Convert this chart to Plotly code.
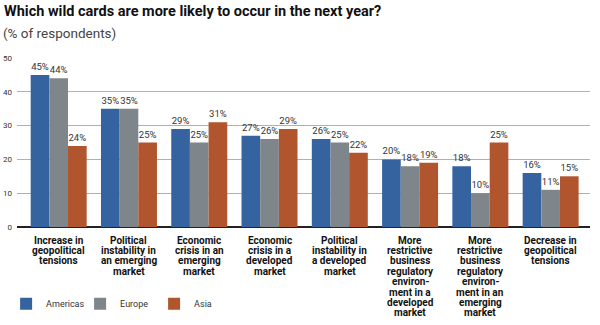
import plotly.graph_objects as go

# Survey categories (each line of a label as drawn under the axis)
categories = [
    "Increase in geopolitical tensions",
    "Political instability in an emerging market",
    "Economic crisis in an emerging market",
    "Economic crisis in a developed market",
    "Political instability in a developed market",
    "More restrictive business regulatory environment in a developed market",
    "More restrictive business regulatory environment in an emerging market",
    "Decrease in geopolitical tensions",
]
category_lines = [
    ["Increase in", "geopolitical", "tensions"],
    ["Political", "instability in", "an emerging", "market"],
    ["Economic", "crisis in an", "emerging", "market"],
    ["Economic", "crisis in a", "developed", "market"],
    ["Political", "instability in", "a developed", "market"],
    ["More", "restrictive", "business", "regulatory", "environ-", "ment in a", "developed", "market"],
    ["More", "restrictive", "business", "regulatory", "environ-", "ment in an", "emerging", "market"],
    ["Decrease in", "geopolitical", "tensions"],
]

americas = [45, 35, 29, 27, 26, 20, 18, 16]
europe = [44, 35, 25, 26, 25, 18, 10, 11]
asia = [24, 25, 31, 29, 22, 19, 25, 15]

series = [
    ("Americas", americas, "#3463a0"),
    ("Europe", europe, "#7e868c"),
    ("Asia", asia, "#b0552e"),
]

y_ticks = [0, 10, 20, 30, 40, 50]

FONT = "Roboto"
PLOT_TOP, PLOT_H = 58, 169

fig = go.Figure()
x_idx = list(range(len(categories)))
for name, vals, color in series:
    fig.add_trace(go.Bar(
        x=x_idx,
        y=vals,
        name=name,
        marker=dict(color=color, line=dict(width=0)),
        text=[f"{v}%" for v in vals],
        textposition="outside",
        textfont=dict(family=FONT, size=9.5, color="#333333"),
        constraintext="none",
        cliponaxis=False,
        hovertext=categories,
    ))

annotations = []

# Title and subtitle, placed in pixels above the plot area
def px_to_paper(y_px):
    return 1 + (PLOT_TOP - y_px) / PLOT_H

annotations.append(dict(
    x=-15 / 573, xref="paper", y=px_to_paper(12), yref="paper",
    xanchor="left", yanchor="middle", showarrow=False,
    text="<b>Which wild cards are more likely to occur in the next year?</b>",
    font=dict(family=FONT, size=14.5, color="#111111"),
))
annotations.append(dict(
    x=-16 / 573, xref="paper", y=px_to_paper(33), yref="paper",
    xanchor="left", yanchor="middle", showarrow=False,
    text="(% of respondents)",
    font=dict(family=FONT, size=13.5, color="#444444"),
))

# Category labels, one annotation per line for tight leading
line_h = 10.4
for i, lines in enumerate(category_lines):
    for j, ln in enumerate(lines):
        annotations.append(dict(
            x=i, xref="x", y=0, yref="paper",
            yanchor="middle", xanchor="center",
            yshift=-13 - j * line_h,
            text=f"<b>{ln}</b>", showarrow=False,
            font=dict(family=FONT, size=10, color="#111111"),
        ))

fig.update_layout(
    width=600, height=325,
    margin=dict(l=17, r=10, t=PLOT_TOP, b=325 - PLOT_TOP - PLOT_H, autoexpand=False),
    paper_bgcolor="white", plot_bgcolor="white",
    barmode="group", bargap=0.2035, bargroupgap=0,
    font=dict(family=FONT, color="#333333"),
    xaxis=dict(
        range=[-0.593, 7.56], showticklabels=False, showgrid=False,
        zeroline=False, showline=False, ticks="",
    ),
    yaxis=dict(
        range=[0, 50], tickvals=y_ticks, ticktext=[str(v) for v in y_ticks],
        showgrid=True, gridcolor="#b0b0b0", gridwidth=1,
        zeroline=True, zerolinecolor="#222222", zerolinewidth=2,
        tickfont=dict(family=FONT, size=8, color="#333333"),
        ticks="", ticklabelstandoff=4,
    ),
    legend=dict(
        orientation="h", x=-0.019, xanchor="left", y=-0.368, yanchor="top",
        font=dict(family=FONT, size=9, color="#333333"),
        itemwidth=30, traceorder="normal",
        entrywidth=29, entrywidthmode="pixels",
    ),
    annotations=annotations,
    showlegend=True,
)

fig.write_html("out.html")
